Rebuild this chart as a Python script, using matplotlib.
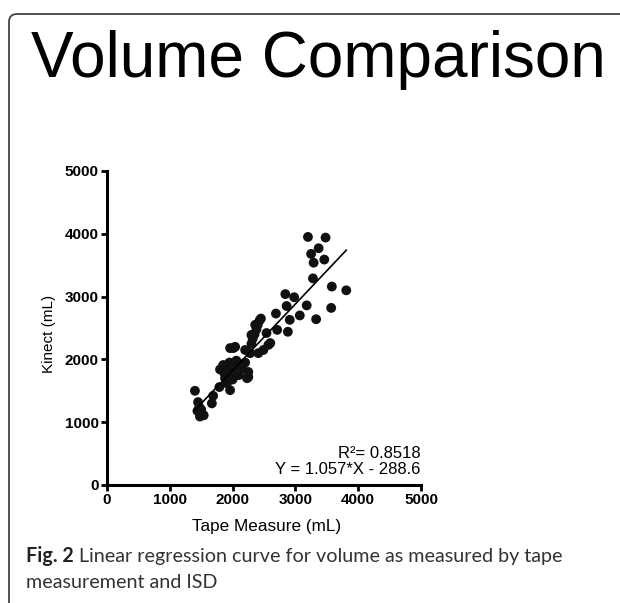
import matplotlib.pyplot as plt
from matplotlib.patches import FancyBboxPatch

plt.rcParams['font.family'] = ['Liberation Sans', 'DejaVu Sans']

# data (mL)
tape = [3200, 3480, 3370, 3250, 3290, 3460, 3280, 3580, 3810, 2840,
        2980, 2860, 3180, 3570, 2690, 3070, 2910, 3330, 2710, 2880,
        2450, 2540, 2430, 2400, 2380, 2350, 2320, 2300, 2600, 2490,
        2570, 2410, 2280, 2200, 2040, 2010, 2300, 1960, 2250, 2360,
        1850, 1900, 1950, 2000, 2050, 2100, 2150, 2200, 2250, 1880,
        2000, 2120, 1950, 2230, 1870, 1800, 2060, 1850,
        1400, 1470, 1480, 1540, 1670, 1690, 1790, 1960, 1910, 1440,
        1500, 1450]
kinect = [3950, 3940, 3770, 3680, 3540, 3590, 3290, 3160, 3100, 3040,
          2990, 2850, 2860, 2820, 2730, 2700, 2630, 2640, 2470, 2440,
          2650, 2420, 2620, 2550, 2480, 2400, 2330, 2250, 2260, 2150,
          2230, 2100, 2100, 2150, 2200, 2180, 2390, 2180, 1720, 2550,
          1900, 1850, 1950, 1800, 1900, 1750, 1850, 1950, 1800, 1700,
          1680, 1920, 1780, 1700, 1780, 1840, 1980, 1910,
          1500, 1240, 1090, 1110, 1300, 1420, 1560, 1510, 1620, 1180,
          1200, 1320]
slope = 1.057
intercept = -288.6
r2 = 0.8518
ticks = [0, 1000, 2000, 3000, 4000, 5000]

W, H = 620, 603
fig = plt.figure(figsize=(W / 100, H / 100), dpi=100)

# rounded frame of the figure panel
frame = FancyBboxPatch((9 / W, -20 / H), 700 / W, (H - 14 + 20) / H,
                       boxstyle='round,pad=0,rounding_size=0.013',
                       transform=fig.transFigure, fill=False,
                       edgecolor='#444444', linewidth=1.3)
fig.patches.append(frame)

fig.text(31 / W, 1 - 77 / H, 'Volume Comparison', fontsize=46,
         ha='left', va='baseline', color='black')

ax = fig.add_axes([107 / W, 1 - 485 / H, (421 - 107) / W, (485 - 171) / H])
ax.scatter(tape, kinect, s=50, color='#111111', edgecolors='none', zorder=3)
x0, x1 = min(tape), max(tape)
ax.plot([x0, x1], [slope * x0 + intercept, slope * x1 + intercept],
        color='black', lw=1.2, zorder=4)

ax.set_xlim(0, 5000)
ax.set_ylim(0, 5000)
ax.set_xticks(ticks)
ax.set_yticks(ticks)
for s in ['top', 'right']:
    ax.spines[s].set_visible(False)
for s in ['left', 'bottom']:
    ax.spines[s].set_linewidth(2.2)
ax.tick_params(direction='out', length=4, width=2, pad=2)
for lab in ax.get_xticklabels() + ax.get_yticklabels():
    lab.set_fontweight('bold')
    lab.set_fontsize(11)

fig.text(267 / W, 1 - 531 / H, 'Tape Measure (mL)', fontsize=12.3,
         ha='center', va='baseline')
fig.text(49 / W, 1 - 334 / H, 'Kinect (mL)', fontsize=11, rotation=90,
         ha='center', va='center')

ax.text(4990, 430, f'R\u00b2= {r2}', fontsize=12, ha='right', va='baseline')
ax.text(4990, 170, f'Y = {slope}*X - {abs(intercept)}', fontsize=12,
        ha='right', va='baseline')

# caption with bold lead-in
fig.canvas.draw()
cap_font = ['Lato', 'Liberation Sans']
t1 = fig.text(26 / W, 1 - 562 / H, 'Fig. 2', fontsize=14.2, fontweight='bold',
              family=cap_font, color='#222222', va='baseline')
bb = t1.get_window_extent(fig.canvas.get_renderer())
fig.text((bb.x1 + 5) / W, 1 - 562 / H,
         'Linear regression curve for volume as measured by tape',
         fontsize=14.2, family=cap_font, color='#333333', va='baseline')
fig.text(26 / W, 1 - 588 / H, 'measurement and ISD', fontsize=14.2,
         family=cap_font, color='#333333', va='baseline')

fig.savefig('out.png', dpi=100)
